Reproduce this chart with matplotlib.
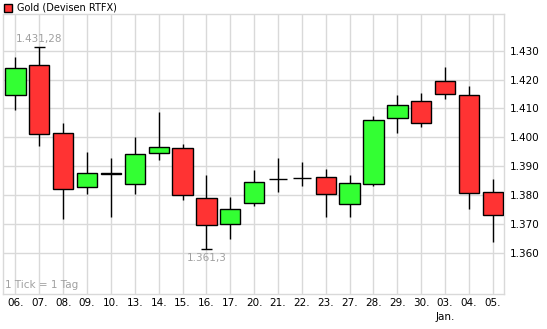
import numpy as np
import matplotlib
matplotlib.use("Agg")
import matplotlib.pyplot as plt

# daily candles, Gold (Devisen RTFX)
days = ["06.", "07.", "08.", "09.", "10.", "13.", "14.", "15.", "16.", "17.", "20.",
        "21.", "22.", "23.", "27.", "28.", "29.", "30.", "03.", "04.", "05."]
opens  = [1.4146, 1.4249, 1.4014, 1.3827, 1.3877, 1.3838, 1.3945, 1.3962, 1.3789, 1.3700, 1.3772,
          1.3855, 1.3860, 1.3862, 1.3768, 1.3838, 1.4067, 1.4126, 1.4195, 1.4146, 1.3811]
closes = [1.4239, 1.4011, 1.3820, 1.3876, 1.3875, 1.3942, 1.3967, 1.3800, 1.3696, 1.3751, 1.3845,
          1.3855, 1.3860, 1.3803, 1.3842, 1.4059, 1.4111, 1.4049, 1.4149, 1.3807, 1.3730]
highs  = [1.4277, 1.43128, 1.4049, 1.3949, 1.3928, 1.4001, 1.4088, 1.3977, 1.3870, 1.3794, 1.3887,
          1.3928, 1.3915, 1.3891, 1.3870, 1.4074, 1.4147, 1.4154, 1.4244, 1.4178, 1.3856]
lows   = [1.4094, 1.3971, 1.3717, 1.3805, 1.3724, 1.3805, 1.3923, 1.3784, 1.3613, 1.3650, 1.3764,
          1.3812, 1.3833, 1.3724, 1.3726, 1.3831, 1.4016, 1.4035, 1.4134, 1.3751, 1.3639]
yticks = [1.360, 1.370, 1.380, 1.390, 1.400, 1.410, 1.420, 1.430]
ytick_labels = ["1.360", "1.370", "1.380", "1.390", "1.400", "1.410", "1.420", "1.430"]

green = "#33ff33"
red = "#ff3333"
grid_c = "#d9d9d9"
gray_txt = "#a0a0a0"
fs = 7.5

fig = plt.figure(figsize=(5.47, 3.29), dpi=100)
ax = fig.add_axes([0.0055, 0.1064, 0.916, 0.851])

x = np.arange(len(days))
o = np.array(opens)
c = np.array(closes)
h = np.array(highs)
l = np.array(lows)
up = c >= o
w = 0.85

# wicks
ax.vlines(x, l, h, color="black", linewidth=1, zorder=2)
# bodies
bottoms = np.minimum(o, c)
heights = np.abs(c - o)
cols = [green if u else red for u in up]
flat = heights == 0
ax.bar(x[~flat], heights[~flat], w, bottom=bottoms[~flat], color=np.array(cols)[~flat],
       edgecolor="black", linewidth=1, zorder=3)
ax.hlines(o[flat], x[flat] - 0.38, x[flat] + 0.38, color="black", linewidth=1, zorder=3)

# marks for period high / low
ih = int(np.argmax(h))
il = int(np.argmin(l))
ax.hlines(h[ih], x[ih] - 0.22, x[ih] + 0.22, color="black", linewidth=1, zorder=3)
ax.hlines(l[il], x[il] - 0.22, x[il] + 0.22, color="black", linewidth=1, zorder=3)
ax.text(x[ih], h[ih] + 0.0012, "1.431,28", color=gray_txt, fontsize=fs, ha="center", va="bottom")
ax.text(x[il], l[il] - 0.0012, "1.361,3", color=gray_txt, fontsize=fs, ha="center", va="top")

ax.set_xlim(-0.52, len(days) - 0.53)
ax.set_ylim(1.3458, 1.4427)
ax.set_xticks(x)
ax.set_xticklabels(days, fontsize=fs)
ax.set_yticks(yticks)
ax.set_yticklabels(ytick_labels, fontsize=fs)
ax.yaxis.tick_right()
ax.tick_params(axis="both", length=0, pad=3)
ax.tick_params(axis="y", pad=4)
ax.grid(True, color=grid_c, linewidth=1)
ax.set_axisbelow(True)
for s in ax.spines.values():
    s.set_color(grid_c)
    s.set_linewidth(1)

ax.text(x[18], -0.082, "Jan.", transform=ax.get_xaxis_transform(), fontsize=fs,
        ha="center", va="center")
ax.text(0.004, 0.015, "1 Tick = 1 Tag", transform=ax.transAxes, color=gray_txt,
        fontsize=fs, ha="left", va="bottom")

# legend entry on top
fig.patches.append(plt.Rectangle((4 / 547, 1 - 12 / 329), 8 / 547, 8 / 329, transform=fig.transFigure,
                                 facecolor=red, edgecolor="black", linewidth=1))
fig.text(17 / 547, 1 - 8 / 329, "Gold (Devisen RTFX)", fontsize=7, ha="left", va="center")

fig.savefig("out.png", dpi=100)
